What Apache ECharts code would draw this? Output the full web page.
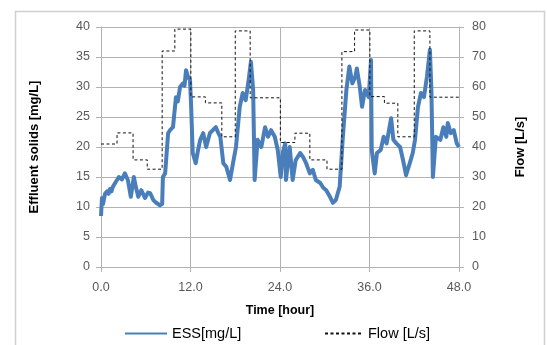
<!DOCTYPE html>
<html>
<head>
<meta charset="utf-8">
<script src="https://cdn.jsdelivr.net/npm/echarts@6/dist/echarts.min.js"></script>
<style>
html,body{margin:0;padding:0;background:#fff;}
#chart{width:547px;height:345px;}
</style>
</head>
<body>
<div id="chart"></div>
<script>
// Time in hours
var essTime = [0, 0.13, 0.27, 0.54, 0.8, 1.0, 1.2, 1.4, 1.6, 2.0, 2.4, 2.8, 3.2, 3.6, 4.0, 4.4, 4.7, 5.0, 5.4, 5.9, 6.3, 6.6, 7.0, 7.4, 7.9, 8.2, 8.3, 8.6, 9.0, 9.25, 9.65, 10.05, 10.3, 10.6, 11.0, 11.2, 11.4, 11.67, 11.93, 12.07, 12.3, 12.7, 13.0, 13.3, 13.7, 14.1, 14.6, 15.0, 15.4, 15.7, 16.0, 16.4, 16.8, 17.3, 17.7, 18.1, 18.6, 19.0, 19.4, 19.8, 20.1, 20.4, 20.6, 21.0, 21.5, 22.0, 22.4, 22.8, 23.3, 23.7, 24.1, 24.4, 24.7, 24.8, 25.3, 25.7, 26.1, 26.7, 27.1, 27.5, 28.0, 28.4, 28.8, 29.4, 29.8, 30.2, 30.7, 31.1, 31.5, 32.0, 32.4, 32.9, 33.3, 33.7, 34.1, 34.3, 34.7, 35.0, 35.4, 35.9, 36.2, 36.3, 36.7, 37.0, 37.5, 37.9, 38.3, 38.9, 39.2, 39.6, 40.1, 40.5, 40.9, 41.4, 41.8, 42.1, 42.5, 42.9, 43.3, 43.7, 44.1, 44.3, 44.5, 44.9, 45.5, 45.9, 46.3, 46.5, 46.9, 47.3, 47.7, 48.0];
// Effluent suspended solids, mg/L
var essValue = [8.5, 11.5, 10.5, 12.2, 12.6, 12.2, 13, 12.6, 13.4, 14.2, 15, 14.6, 15.6, 14.5, 11.7, 15, 13.2, 11.7, 12.8, 11.5, 12.4, 12.3, 11.2, 10.7, 10.3, 10.5, 15, 15.6, 22.3, 22.8, 23.3, 28.3, 27.6, 30, 30.6, 30.2, 32.8, 31.7, 31.2, 27.3, 19, 17.3, 19.4, 21.2, 22.3, 20, 22.3, 22.8, 23.3, 22.4, 21.7, 17.3, 16.7, 14.5, 17.3, 20, 26.7, 29, 27.8, 31.2, 34.2, 29.5, 14.5, 21.2, 20, 23.3, 21.7, 22.8, 21.7, 19.5, 15, 19.2, 20.6, 14.5, 20, 14.5, 17.8, 19, 18.3, 17.3, 15.6, 16.2, 14.5, 14, 13.2, 12.8, 11.7, 10.7, 11.2, 13.4, 21.2, 29.5, 33.4, 30.6, 31.7, 33.1, 30, 26.7, 29.5, 28.3, 34.5, 19.5, 15.6, 19, 19.5, 21.7, 20.6, 24.8, 21.2, 20.6, 20, 17.8, 15.3, 17.3, 19, 21.2, 26.7, 29, 28.3, 31.7, 36.2, 29.5, 15, 21.7, 21.2, 23.3, 21.7, 24, 22.3, 22.8, 20.6, 20];
// Flow step changes (start time of each step, hours) and flow, L/s
var flowTime = [0, 2.15, 4.3, 6.2, 8.2, 9.9, 12.05, 14, 16.2, 18, 20, 24.05, 26, 28, 30.3, 32.3, 34, 36.05, 38, 39.8, 42, 44.1, 48];
var flowValue = [41, 44.7, 35.7, 32.6, 72, 79.3, 56.7, 54.7, 43.4, 78.7, 56.4, 41.5, 44.6, 35.7, 32.6, 71.8, 79, 56.8, 54.6, 43.4, 78.7, 56.6, 56.6];
// Axis ticks
var xTicks = [0, 12, 24, 36, 48];
var essTicks = [0, 5, 10, 15, 20, 25, 30, 35, 40];
var flowTicks = [0, 10, 20, 30, 40, 50, 60, 70, 80];

var essData = essTime.map(function (t, i) { return [t, essValue[i]]; });
var flowData = flowTime.map(function (t, i) { return [t, flowValue[i]]; });

var gridColor = '#b3b3b3';
var labelColor = '#595959';
var font = 'Liberation Sans, Arial, sans-serif';

var chart = echarts.init(document.getElementById('chart'), null, {renderer: 'canvas'});
chart.setOption({
  animation: false,
  backgroundColor: '#fff',
  graphic: [{
    type: 'rect', left: 13, top: 9,
    shape: {width: 529, height: 360},
    style: {fill: 'none', stroke: '#d0d0d0', lineWidth: 1.5},
    silent: true
  }],
  grid: {left: 101, right: 88, top: 27, bottom: 78},
  legend: [{
    left: 119, top: 321, itemWidth: 42, itemHeight: 14,
    data: ['ESS[mg/L]'],
    itemStyle: {opacity: 0},
    textStyle: {fontFamily: font, fontSize: 14.5, color: '#000'}
  }, {
    left: 319, top: 321, itemWidth: 38, itemHeight: 14,
    data: ['Flow [L/s]'],
    itemStyle: {opacity: 0},
    textStyle: {fontFamily: font, fontSize: 14.5, color: '#000'}
  }],
  xAxis: {
    type: 'value', min: xTicks[0], max: xTicks[xTicks.length - 1], interval: 12,
    name: 'Time [hour]', nameLocation: 'middle', nameGap: 37,
    nameTextStyle: {fontFamily: font, fontSize: 12.5, fontWeight: 'bold', color: '#000'},
    axisLine: {show: true, lineStyle: {color: gridColor, width: 1}},
    axisTick: {show: true, length: 5, lineStyle: {color: gridColor}},
    axisLabel: {margin: 14, fontFamily: font, fontSize: 12.5, color: labelColor,
      formatter: function (v) { return v.toFixed(1); }},
    splitLine: {show: true, lineStyle: {color: gridColor, width: 1}}
  },
  yAxis: [{
    type: 'value', min: essTicks[0], max: essTicks[essTicks.length - 1], interval: 5,
    position: 'left',
    name: 'Effluent solids [mg/L]', nameLocation: 'middle', nameGap: 60, nameRotate: 90,
    nameTextStyle: {fontFamily: font, fontSize: 13, fontWeight: 'bold', color: '#000'},
    axisLine: {show: true, lineStyle: {color: gridColor, width: 1}},
    axisTick: {show: true, length: 5, lineStyle: {color: gridColor}},
    axisLabel: {margin: 11, fontFamily: font, fontSize: 12.5, color: labelColor},
    splitLine: {show: true, lineStyle: {color: gridColor, width: 1}}
  }, {
    type: 'value', min: flowTicks[0], max: flowTicks[flowTicks.length - 1], interval: 10,
    position: 'right',
    name: 'Flow [L/s]', nameLocation: 'middle', nameGap: 55, nameRotate: 90,
    nameTextStyle: {fontFamily: font, fontSize: 13, fontWeight: 'bold', color: '#000'},
    axisLine: {show: true, lineStyle: {color: gridColor, width: 1}},
    axisTick: {show: true, length: 5, lineStyle: {color: gridColor}},
    axisLabel: {margin: 13, fontFamily: font, fontSize: 12.5, color: labelColor},
    splitLine: {show: false}
  }],
  series: [{
    name: 'ESS[mg/L]', type: 'line', yAxisIndex: 0,
    data: essData, showSymbol: false, symbol: 'none',
    lineStyle: {color: '#4a7ebb', width: 4, join: 'round'},
    itemStyle: {color: '#4a7ebb'},
    z: 2
  }, {
    name: 'Flow [L/s]', type: 'line', yAxisIndex: 1, step: 'end',
    data: flowData, showSymbol: false, symbol: 'none',
    lineStyle: {color: '#111', width: 1, type: [3, 2.5]},
    itemStyle: {color: '#111'},
    z: 3
  }]
});
</script>
</body>
</html>
